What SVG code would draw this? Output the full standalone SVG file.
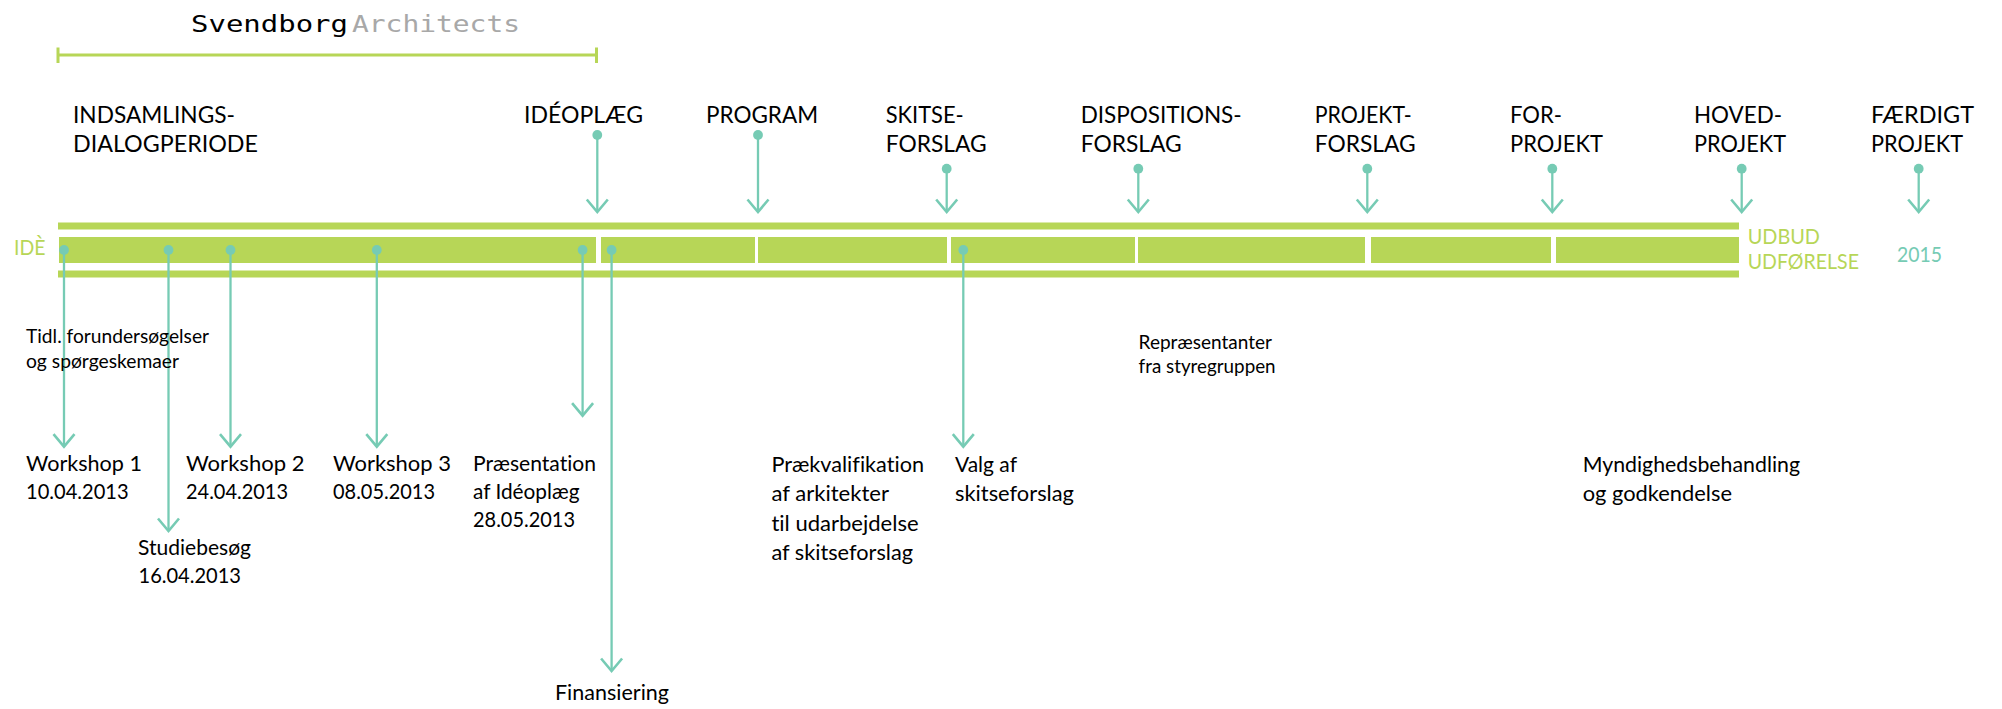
<svg xmlns="http://www.w3.org/2000/svg" width="2002" height="709" viewBox="0 0 2002 709">
<defs>
<style>
text{font-family:"Lato","Open Sans","Liberation Sans",sans-serif;fill:#000;font-variant-ligatures:none;}
.h{font-size:23px;}
.b{font-size:21.5px;}
.s{font-size:18.5px;}
.g{font-size:20.5px;fill:#b7d657;}
.t{font-size:22px;fill:#76cbb4;}
.logo{font-family:"DejaVu Sans Mono","Liberation Mono",monospace;font-size:23.5px;}
.bar{fill:#b7d657;}
.c{fill:none;stroke:#76cbb4;stroke-width:2.3;marker-start:url(#dot);marker-end:url(#head);}
</style>
<marker id="head" markerUnits="userSpaceOnUse" markerWidth="18" markerHeight="28" refX="15" refY="14" orient="auto" overflow="visible"><path d="M2.5,3.5 L15,14 L2.5,24.5" fill="none" stroke="#76cbb4" stroke-width="2.6"/></marker>
<marker id="dot" markerUnits="userSpaceOnUse" markerWidth="12" markerHeight="12" refX="6" refY="6" orient="auto"><circle cx="6" cy="6" r="4.9" fill="#76cbb4"/></marker>
</defs>
<g id="period-bracket">
<rect class="bar" x="58" y="53.5" width="538" height="3"/>
<rect class="bar" x="56.5" y="47.5" width="3" height="15.5"/>
<rect class="bar" x="595" y="47.5" width="3" height="15.5"/>
</g>
<g id="logo">
<text class="logo" x="191" y="32" textLength="157" lengthAdjust="spacingAndGlyphs">Svendborg</text>
<text class="logo" x="352" y="32" textLength="168" lengthAdjust="spacingAndGlyphs" style="fill:#a8a8a8">Architects</text>
</g>
<g id="timeline">
<rect class="bar" x="58" y="222.5" width="1681" height="7"/>
<rect class="bar" x="58" y="270.5" width="1681" height="7"/>
<rect class="bar" x="59" y="237" width="537" height="26"/>
<rect class="bar" x="601" y="237" width="154" height="26"/>
<rect class="bar" x="758" y="237" width="189" height="26"/>
<rect class="bar" x="951" y="237" width="184" height="26"/>
<rect class="bar" x="1138" y="237" width="227" height="26"/>
<rect class="bar" x="1371" y="237" width="180" height="26"/>
<rect class="bar" x="1556" y="237" width="183" height="26"/>
</g>
<g id="connectors">
<path class="c" d="M597.3,135V212"/>
<path class="c" d="M758,135V212"/>
<path class="c" d="M946.7,168.7V212"/>
<path class="c" d="M1138.3,168.7V212"/>
<path class="c" d="M1367.3,168.7V212"/>
<path class="c" d="M1552.3,168.7V212"/>
<path class="c" d="M1741.7,168.7V212"/>
<path class="c" d="M1918.7,168.7V212"/>
<path class="c" d="M64,250V446.7"/>
<path class="c" d="M168.5,250V531"/>
<path class="c" d="M230.5,250V446.7"/>
<path class="c" d="M376.8,250V446.7"/>
<path class="c" d="M582.6,250V415.7"/>
<path class="c" d="M611.6,250V671"/>
<path class="c" d="M963.3,250V446.7"/>
</g>
<g id="node-indsamling"><text class="h" x="73" y="122.7" textLength="162" lengthAdjust="spacingAndGlyphs">INDSAMLINGS-</text><text class="h" x="73" y="151.7" textLength="185" lengthAdjust="spacingAndGlyphs">DIALOGPERIODE</text></g>
<g id="node-ideoplaeg"><text class="h" x="524" y="122.7" textLength="119" lengthAdjust="spacingAndGlyphs">IDÉOPLÆG</text></g>
<g id="node-program"><text class="h" x="706" y="122.7" textLength="112" lengthAdjust="spacingAndGlyphs">PROGRAM</text></g>
<g id="node-skitse"><text class="h" x="885.7" y="122.7" textLength="78" lengthAdjust="spacingAndGlyphs">SKITSE-</text><text class="h" x="885.7" y="151.7" textLength="101" lengthAdjust="spacingAndGlyphs">FORSLAG</text></g>
<g id="node-disposition"><text class="h" x="1080.7" y="122.7" textLength="161" lengthAdjust="spacingAndGlyphs">DISPOSITIONS-</text><text class="h" x="1080.7" y="151.7" textLength="101" lengthAdjust="spacingAndGlyphs">FORSLAG</text></g>
<g id="node-projekt"><text class="h" x="1314.7" y="122.7" textLength="97" lengthAdjust="spacingAndGlyphs">PROJEKT-</text><text class="h" x="1314.7" y="151.7" textLength="101" lengthAdjust="spacingAndGlyphs">FORSLAG</text></g>
<g id="node-for"><text class="h" x="1510" y="122.7" textLength="52" lengthAdjust="spacingAndGlyphs">FOR-</text><text class="h" x="1510" y="151.7" textLength="93" lengthAdjust="spacingAndGlyphs">PROJEKT</text></g>
<g id="node-hoved"><text class="h" x="1694" y="122.7" textLength="88" lengthAdjust="spacingAndGlyphs">HOVED-</text><text class="h" x="1694" y="151.7" textLength="92" lengthAdjust="spacingAndGlyphs">PROJEKT</text></g>
<g id="node-faerdigt"><text class="h" x="1871" y="122.7" textLength="103" lengthAdjust="spacingAndGlyphs">FÆRDIGT</text><text class="h" x="1871" y="151.7" textLength="92" lengthAdjust="spacingAndGlyphs">PROJEKT</text></g>
<g id="node-ide"><text class="g" x="14" y="255" textLength="31.5" lengthAdjust="spacingAndGlyphs">IDÈ</text></g>
<g id="node-udbud"><text class="g" x="1747.7" y="244" textLength="72.3" lengthAdjust="spacingAndGlyphs">UDBUD</text><text class="g" x="1747.7" y="269" textLength="111.3" lengthAdjust="spacingAndGlyphs">UDFØRELSE</text></g>
<g id="node-2015"><text class="t" x="1897" y="262" textLength="45" lengthAdjust="spacingAndGlyphs">2015</text></g>
<g id="node-tidl"><text class="s" x="26" y="343" textLength="183" lengthAdjust="spacingAndGlyphs">Tidl. forundersøgelser</text><text class="s" x="26" y="368" textLength="153" lengthAdjust="spacingAndGlyphs">og spørgeskemaer</text></g>
<g id="node-workshop1"><text class="b" x="26" y="471.2" textLength="116" lengthAdjust="spacingAndGlyphs">Workshop 1</text><text class="b" x="26" y="499" textLength="102.6" lengthAdjust="spacingAndGlyphs">10.04.2013</text></g>
<g id="node-workshop2"><text class="b" x="186" y="471.2" textLength="118.5" lengthAdjust="spacingAndGlyphs">Workshop 2</text><text class="b" x="186" y="499" textLength="102" lengthAdjust="spacingAndGlyphs">24.04.2013</text></g>
<g id="node-workshop3"><text class="b" x="333" y="471.2" textLength="118" lengthAdjust="spacingAndGlyphs">Workshop 3</text><text class="b" x="333" y="499" textLength="102" lengthAdjust="spacingAndGlyphs">08.05.2013</text></g>
<g id="node-praesentation"><text class="b" x="473" y="471.2" textLength="123" lengthAdjust="spacingAndGlyphs">Præsentation</text><text class="b" x="473" y="499" textLength="106.5" lengthAdjust="spacingAndGlyphs">af Idéoplæg</text><text class="b" x="473" y="527" textLength="102" lengthAdjust="spacingAndGlyphs">28.05.2013</text></g>
<g id="node-studiebesoeg"><text class="b" x="138" y="554.5" textLength="113" lengthAdjust="spacingAndGlyphs">Studiebesøg</text><text class="b" x="138.5" y="582.7" textLength="102.5" lengthAdjust="spacingAndGlyphs">16.04.2013</text></g>
<g id="node-finansiering"><text class="b" x="555" y="700" textLength="114" lengthAdjust="spacingAndGlyphs">Finansiering</text></g>
<g id="node-praekvalifikation"><text class="b" x="771.4" y="472" textLength="152.6" lengthAdjust="spacingAndGlyphs">Prækvalifikation</text><text class="b" x="771.4" y="501" textLength="117.6" lengthAdjust="spacingAndGlyphs">af arkitekter</text><text class="b" x="771.4" y="530.5" textLength="147.2" lengthAdjust="spacingAndGlyphs">til udarbejdelse</text><text class="b" x="771.4" y="559.5" textLength="141.6" lengthAdjust="spacingAndGlyphs">af skitseforslag</text></g>
<g id="node-valg"><text class="b" x="955" y="472" textLength="62" lengthAdjust="spacingAndGlyphs">Valg af</text><text class="b" x="955" y="501" textLength="119" lengthAdjust="spacingAndGlyphs">skitseforslag</text></g>
<g id="node-repraesentanter"><text class="s" x="1138.6" y="349.3" textLength="133.4" lengthAdjust="spacingAndGlyphs">Repræsentanter</text><text class="s" x="1138.6" y="372.7" textLength="137" lengthAdjust="spacingAndGlyphs">fra styregruppen</text></g>
<g id="node-myndighed"><text class="b" x="1582.7" y="472" textLength="217.3" lengthAdjust="spacingAndGlyphs">Myndighedsbehandling</text><text class="b" x="1582.7" y="501" textLength="149.3" lengthAdjust="spacingAndGlyphs">og godkendelse</text></g>
</svg>
